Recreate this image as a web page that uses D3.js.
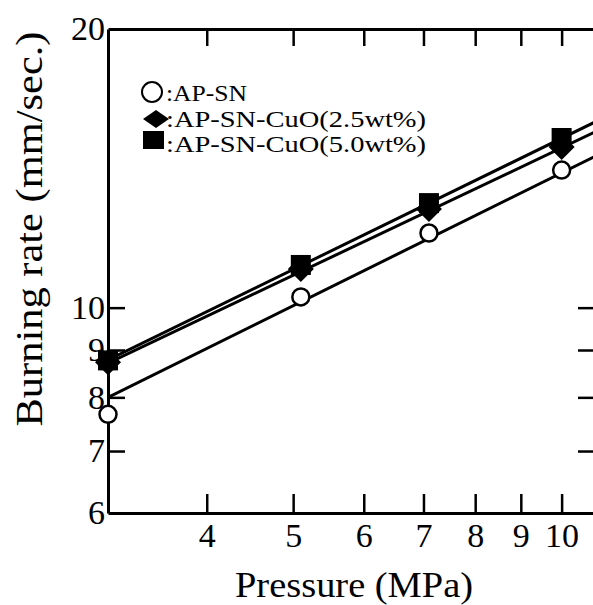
<!DOCTYPE html>
<html><head><meta charset="utf-8">
<script src="https://cdn.jsdelivr.net/npm/d3@7"></script>
<style>
html,body{margin:0;padding:0;background:#fff;}
svg{display:block;}
svg text{font-family:"Liberation Serif","DejaVu Serif",serif !important;}
</style>
</head><body>
<svg id="c" width="593" height="605"></svg>
<script>
// ---- data ----
const pressures = [3.1, 5.1, 7.1, 10];            // MPa
const apSN      = [7.67, 10.27, 12.04, 14.08];    // mm/sec
const cuo25     = [8.73, 11.01, 12.78, 14.91];
const cuo50     = [8.77, 11.12, 12.97, 15.25];
// fitted lines (endpoints)
const fitP      = [3.1, 10.9];
const fitAPSN   = [8.0, 14.57];
const fitCuO25  = [8.71, 15.48];
const fitCuO50  = [8.78, 15.87];
const xTicks = [4, 5, 6, 7, 8, 9, 10];
const yTickLabels = [6, 7, 8, 9, 10, 20];
const yTickMarks = [7, 8, 9, 10];
const legendLabels = [":AP-SN", ":AP-SN-CuO(2.5wt%)", ":AP-SN-CuO(5.0wt%)"];

const svg = d3.select("#c");
const L = 108, R = 595, T = 29, B = 513;

const x = d3.scaleLog().domain([3.1, 10.9]).range([L, R]);
const y = d3.scaleLog().domain([6, 20]).range([B, T]);

svg.append("defs").append("clipPath").attr("id","clip")
  .append("rect").attr("x",L).attr("y",T).attr("width",R-L).attr("height",B-T);

function style(g){
  g.attr("font-family",null);
  g.select(".domain").attr("stroke","#000").attr("stroke-width",3);
  g.selectAll(".tick line").attr("stroke","#000").attr("stroke-width",2.5);
  g.selectAll("text").attr("fill","#000");
}
const fmt = d3.format("d");
svg.append("g").attr("transform",`translate(0,${B})`)
  .call(d3.axisBottom(x).tickValues(xTicks).tickFormat(fmt).tickSizeInner(-19).tickSizeOuter(0).tickPadding(10))
  .call(style).call(g=>g.attr("font-size",34));
svg.append("g").attr("transform",`translate(0,${T})`)
  .call(d3.axisTop(x).tickValues(xTicks).tickFormat("").tickSizeInner(-17).tickSizeOuter(0))
  .call(style);
svg.append("g").attr("transform",`translate(${L},0)`)
  .call(d3.axisLeft(y).tickValues(yTickLabels).tickFormat(fmt).tickSizeInner(-17).tickSizeOuter(0).tickPadding(3))
  .call(style).call(g=>{
    g.attr("font-size",34);
    g.selectAll(".tick").filter(d=>d===6||d===20).select("line").remove();
  });
svg.append("g").attr("transform",`translate(${R},0)`)
  .call(d3.axisRight(y).tickValues(yTickMarks).tickFormat("").tickSizeInner(-17).tickSizeOuter(0))
  .call(style);

// fit lines
const line = d3.line().x(d=>x(d[0])).y(d=>y(d[1]));
const plot = svg.append("g").attr("clip-path","url(#clip)");
[fitAPSN, fitCuO25, fitCuO50].forEach(f=>{
  plot.append("path").attr("d", line(fitP.map((p,i)=>[p,f[i]])))
    .attr("fill","none").attr("stroke","#000").attr("stroke-width",3);
});

// markers
const pts = svg.append("g");
pts.selectAll(".sq").data(pressures.map((p,i)=>[p,cuo50[i]])).join("rect")
  .attr("x",d=>x(d[0])-10).attr("y",d=>y(d[1])-10).attr("width",20).attr("height",20).attr("fill","#000");
pts.selectAll(".dm").data(pressures.map((p,i)=>[p,cuo25[i]])).join("path")
  .attr("d",d=>{const cx=x(d[0]),cy=y(d[1]);return `M${cx},${cy-13}L${cx+13},${cy}L${cx},${cy+13}L${cx-13},${cy}Z`;})
  .attr("fill","#000");
pts.selectAll(".ci").data(pressures.map((p,i)=>[p,apSN[i]])).join("circle")
  .attr("cx",d=>x(d[0])).attr("cy",d=>y(d[1])).attr("r",8.5)
  .attr("fill","#fff").attr("stroke","#000").attr("stroke-width",2.5);

// legend
const lg = svg.append("g");
lg.append("circle").attr("cx",152).attr("cy",92).attr("r",10).attr("fill","none").attr("stroke","#000").attr("stroke-width",2);
lg.append("path").attr("d","M156,110L169,119L156,128L143,119Z").attr("fill","#000");
lg.append("rect").attr("x",143).attr("y",131).attr("width",21).attr("height",18).attr("fill","#000");
const lgY = [101, 127, 152];
const lgW = [81, 260, 260];
lg.selectAll("text").data(legendLabels).join("text")
  .attr("x",166).attr("y",(d,i)=>lgY[i]).text(d=>d)
  .attr("textLength",(d,i)=>lgW[i]).attr("lengthAdjust","spacingAndGlyphs")
  .attr("font-size",24).attr("fill","#000");

// titles
svg.append("text").attr("x",354).attr("y",597).attr("text-anchor","middle")
  .attr("font-size",36).attr("textLength",238).attr("lengthAdjust","spacingAndGlyphs")
  .text("Pressure (MPa)");
svg.append("text").attr("transform","translate(42,229) rotate(-90)").attr("text-anchor","middle")
  .attr("font-size",38).attr("textLength",395).attr("lengthAdjust","spacingAndGlyphs")
  .text("Burning rate (mm/sec.)");
</script>
</body></html>
